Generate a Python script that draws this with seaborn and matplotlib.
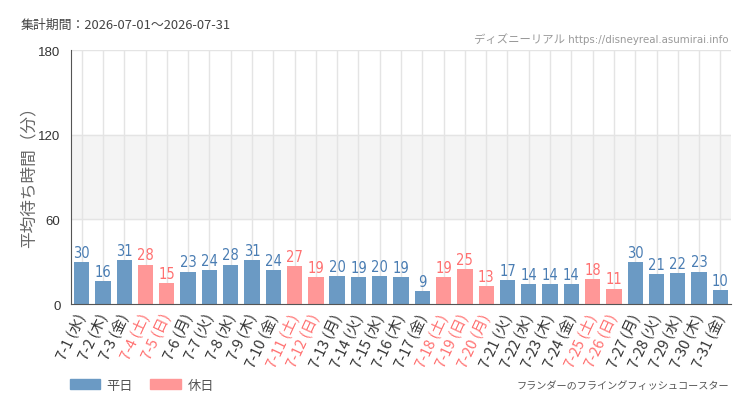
import pandas as pd
import numpy as np
import matplotlib
matplotlib.use("Agg")
import matplotlib.pyplot as plt
import seaborn as sns
from matplotlib.patches import Patch

days = [f"7-{d}" for d in range(1, 32)]
weekdays = ["水", "木", "金", "土", "日", "月", "火"] * 5
weekdays = weekdays[:31]
wait = [30, 16, 31, 28, 15, 23, 24, 28, 31, 24, 27, 19, 20, 19, 20, 19, 9,
        19, 25, 13, 17, 14, 14, 14, 18, 11, 30, 21, 22, 23, 10]
holidays = ["7-4", "7-5", "7-11", "7-12", "7-18", "7-19", "7-20", "7-25", "7-26"]

df = pd.DataFrame({"day": days, "wd": weekdays, "wait": wait})
df["label"] = df["day"] + " (" + df["wd"] + ")"
df["kind"] = np.where(df["day"].isin(holidays), "休日", "平日")

blue = "#6b9ac4"
pink = "#ff9797"
blue_txt = "#4a7db3"
pink_txt = "#ff7070"

sns.set_style("white")
plt.rcParams['font.family'] = ['Noto Sans CJK JP', 'DejaVu Sans']

fig = plt.figure(figsize=(7.5, 4.1), dpi=100)
ax = fig.add_axes([0.0947, 0.256, 0.88, 0.6195])

ax.axhspan(60, 120, color="#f4f4f4", zorder=0)
for i in range(len(days)):
    ax.axvline(i, color="#e4e4e4", lw=1, zorder=0.5)
for y in [60, 120, 180]:
    ax.axhline(y, color="#e4e4e4", lw=1, zorder=0.6)

sns.barplot(data=df, x="label", y="wait", hue="kind", dodge=False,
            palette={"平日": blue, "休日": pink}, width=0.72, ax=ax,
            legend=False, zorder=2, saturation=1, linewidth=0)

for i, (v, k) in enumerate(zip(df["wait"], df["kind"])):
    ax.text(i, v + 1.5, str(v), ha="center", va="bottom", fontsize=10.5,
            color=pink_txt if k == "休日" else blue_txt,
            family="DejaVu Sans", fontstretch="condensed")

ax.set_ylim(0, 180)
ax.set_xlim(-0.5, len(days) - 0.5)
ax.set_yticks([0, 60, 120, 180])
ax.set_yticklabels(["0", "60", "120", "180"], fontsize=9.5, color="#333333",
                   family=["Liberation Sans", "DejaVu Sans"])
ax.set_xlabel("")
ax.set_ylabel("平均待ち時間（分）", fontsize=12, color="#666666")
ax.yaxis.set_label_coords(-0.05, 0.52)
ax.tick_params(axis="both", length=4, color="#333333", direction="out")
ax.tick_params(axis="x", pad=3)
labels = ax.get_xticklabels()
for lab, k in zip(labels, df["kind"]):
    lab.set_rotation(65)
    lab.set_ha("right")
    lab.set_va("center")
    lab.set_rotation_mode("anchor")
    lab.set_fontsize(10.5)
    lab.set_color(pink_txt if k == "休日" else "#333333")

for s in ["top", "right"]:
    ax.spines[s].set_visible(False)
ax.spines["left"].set_color("#555555")
ax.spines["bottom"].set_color("#555555")

fig.text(0.027, 0.937, "集計期間：2026-07-01～2026-07-31", fontsize=9.3,
         color="#444444", va="center")
fig.text(0.972, 0.905, "ディズニーリアル https://disneyreal.asumirai.info", fontsize=8.2,
         color="#999999", ha="right", va="center",
         family=["DejaVu Sans", "Noto Sans CJK JP"], fontstretch="condensed")
fig.text(0.972, 0.058, "フランダーのフライングフィッシュコースター", fontsize=7.3,
         color="#555555", ha="right", va="center")

handles = [Patch(color=blue, label="平日"), Patch(color=pink, label="休日")]
fig.legend(handles=handles, loc="center left", bbox_to_anchor=(0.093, 0.058), ncol=2,
           frameon=False, fontsize=9.5, handlelength=2.3, handleheight=0.8,
           handletextpad=0.5, columnspacing=1.3, labelcolor="#555555",
           borderpad=0, borderaxespad=0)

fig.savefig("out.png", dpi=100)
